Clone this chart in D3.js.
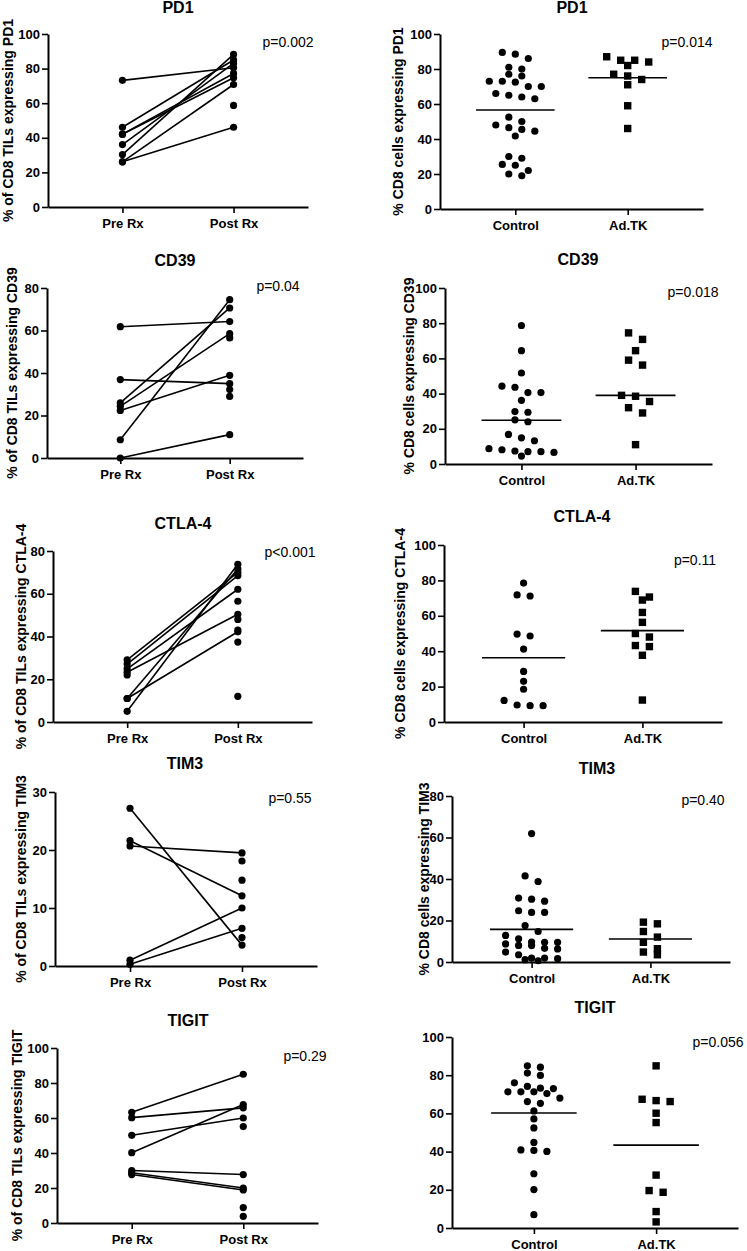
<!DOCTYPE html>
<html><head><meta charset="utf-8">
<script src="https://cdn.jsdelivr.net/npm/d3@7"></script>
<style>
html,body{margin:0;padding:0;background:#fff;}
svg{display:block;}
text{font-family:Arial,"Liberation Sans",sans-serif;fill:#000;}
</style></head>
<body>
<svg id="chart" width="747" height="1251"></svg>
<script>
// ---------------- DATA ----------------
const markers = ["PD1", "CD39", "CTLA-4", "TIM3", "TIGIT"];
const pairedCats = ["Pre Rx", "Post Rx"];
const groupCats = ["Control", "Ad.TK"];
const pPaired = ["p=0.002", "p=0.04", "p<0.001", "p=0.55", "p=0.29"];
const pGroup = ["p=0.014", "p=0.018", "p=0.11", "p=0.40", "p=0.056"];
const yMaxPaired = [100, 80, 80, 30, 100];
const yStepPaired = [20, 20, 20, 10, 20];
const yMaxGroup = [100, 100, 100, 80, 100];
const yStepGroup = [20, 20, 20, 20, 20];

// paired (Pre Rx -> Post Rx)
const pd1Pre = [73.2, 46.1, 42.1, 42.1, 36.1, 30.3, 26.1, 26.1];
const pd1Post = [80.5, 85, 77.2, 74.7, 83, 88.2, 70.8, 46.1];
const pd1PreOnly = [];
const pd1PostOnly = [58.7];

const cd39Pre = [61.8, 36.9, 25.9, 24.3, 22.4, 8.6, 0];
const cd39Post = [64.2, 35, 70.6, 58.5, 38.9, 74.5, 11];
const cd39PreOnly = [];
const cd39PostOnly = [56.5, 32.2, 29];

const ctla4Pre = [29.1, 27.1, 24.9, 23.3, 11, 11, 5];
const ctla4Post = [70, 68.5, 62.1, 50.4, 42.2, 71.6, 73.8];
const ctla4PreOnly = [22];
const ctla4PostOnly = [56.5, 48, 43, 37.4, 12];

const tim3Pre = [27.2, 21.6, 20.7, 1, 0.3];
const tim3Post = [3.6, 12.1, 19.5, 10, 6.5];
const tim3PreOnly = [];
const tim3PostOnly = [18.1, 14.8, 4.9];

const tigitPre = [63.3, 60.2, 50.1, 40.2, 30, 28.7, 27.7];
const tigitPost = [85, 65.8, 60, 67.7, 27.7, 20, 18.9];
const tigitPreOnly = [];
const tigitPostOnly = [55.1, 8.8, 3.8];

// groups (Control vs Ad.TK)
const pd1Control = [88.5, 86, 89.5, 81, 80, 77, 76, 72.5, 73, 73, 70, 70, 66, 65, 63, 64, 52.5, 48, 50, 45.5, 44.5, 46.5, 41.7, 30, 29, 25.5, 25, 22, 19, 20];
const pd1AdTK = [87, 85, 85, 84, 82, 77, 76, 74, 71, 59, 46];
const pd1Centers = [56.6, 75];

const cd39Control = [78.7, 64.4, 51.7, 44.2, 43.6, 40.6, 40.6, 36.2, 29.8, 29.4, 25.1, 24, 16.8, 14.9, 13.2, 8.7, 8.1, 7.4, 7, 7, 6.6, 4.5];
const cd39AdTK = [74.5, 70.8, 64.4, 59, 56.2, 39, 38.5, 35.5, 32, 29, 11];
const cd39Centers = [24.9, 39];

const ctla4Control = [78.5, 71.8, 71.2, 49.7, 48.6, 41.2, 28.6, 23, 18.5, 12.2, 9.6, 9.2, 9.2];
const ctla4AdTK = [73.8, 70.6, 68.9, 61.9, 56.3, 50, 48, 43.2, 42.6, 37.7, 12.4];
const ctla4Centers = [36.3, 51.6];

const tim3Control = [61.9, 41.5, 38.8, 30.8, 30.3, 29.3, 24.7, 23.9, 23.9, 17.6, 14.7, 12.8, 11.2, 9.6, 9.5, 9.5, 8.7, 8, 7.9, 6.6, 6.3, 4.8, 3.5, 1.9, 1.9, 1.6, 1.1, 0.6];
const tim3AdTK = [19.2, 18.4, 14.7, 12, 9.5, 6.4, 4.8, 3.5];
const tim3Centers = [15.7, 11.1];

const tigitControl = [84.9, 84.2, 81.1, 79.9, 76, 74.1, 73.2, 73, 71.3, 71.3, 71.3, 70.4, 68, 66.2, 65.3, 61.3, 57.1, 52.4, 44.8, 40.9, 40.6, 40.1, 28.4, 20.1, 7];
const tigitAdTK = [84.9, 67.4, 66.7, 66.2, 60.1, 55.2, 27.7, 19.6, 18.7, 8.6, 3.2];
const tigitCenters = [60.2, 43.4];

const pairedData = [
  [pd1Pre, pd1Post, pd1PreOnly, pd1PostOnly],
  [cd39Pre, cd39Post, cd39PreOnly, cd39PostOnly],
  [ctla4Pre, ctla4Post, ctla4PreOnly, ctla4PostOnly],
  [tim3Pre, tim3Post, tim3PreOnly, tim3PostOnly],
  [tigitPre, tigitPost, tigitPreOnly, tigitPostOnly]
];
const groupData = [
  [pd1Control, pd1AdTK, pd1Centers],
  [cd39Control, cd39AdTK, cd39Centers],
  [ctla4Control, ctla4AdTK, ctla4Centers],
  [tim3Control, tim3AdTK, tim3Centers],
  [tigitControl, tigitAdTK, tigitCenters]
];

// ---------------- LAYOUT ----------------
const leftLayout = [
  {x0:48, x1:308, yT:34,   yB:207,  tx:178, ty:13,   px:288, py:47,   lx:8},
  {x0:47, x1:303, yT:288,  yB:458,  tx:175, ty:266,  px:278, py:291,  lx:12},
  {x0:53, x1:312, yT:551,  yB:722,  tx:183, ty:529,  px:290, py:557,  lx:21},
  {x0:55, x1:317, yT:792,  yB:966,  tx:185, ty:769,  px:290, py:803,  lx:21},
  {x0:57, x1:318, yT:1048, yB:1223, tx:188, ty:1026, px:305, py:1061, lx:17}
];
const rightLayout = [
  {x0:440, x1:703, yT:34,   yB:209,  tx:572, ty:13,   px:687, py:47,   lx:398},
  {x0:445, x1:712, yT:288,  yB:464,  tx:578, ty:265,  px:693, py:297,  lx:409},
  {x0:444, x1:722, yT:545,  yB:722,  tx:582, ty:522,  px:695, py:565,  lx:400},
  {x0:452, x1:730, yT:796,  yB:962,  tx:597, ty:774,  px:703, py:805,  lx:424},
  {x0:452, x1:738, yT:1037, yB:1228, tx:595, ty:1013, px:718, py:1047, lx:null}
];

const svg = d3.select("#chart");
const R = 3.6, SQ = 7.4;

function frame(L, cats, yMax, yStep, title, pText, yLabel) {
  const g = svg.append("g");
  const x = d3.scalePoint().domain(cats).range([L.x0, L.x1]).padding(0.67);
  const y = d3.scaleLinear().domain([0, yMax]).range([L.yB, L.yT]);
  const ya = g.append("g").attr("transform", `translate(${L.x0},0)`)
    .call(d3.axisLeft(y).tickValues(d3.range(0, yMax + 0.001, yStep)).tickSize(6).tickSizeOuter(0).tickPadding(2).tickFormat(d3.format("d")));
  const xa = g.append("g").attr("transform", `translate(0,${L.yB})`)
    .call(d3.axisBottom(x).tickSize(6).tickSizeOuter(0).tickPadding(6));
  [ya, xa].forEach(a => {
    a.select(".domain").attr("stroke", "#000").attr("stroke-width", 2);
    a.selectAll(".tick line").attr("stroke", "#000").attr("stroke-width", 1.6);
    a.selectAll(".tick text").attr("font-family", "Arial, 'Liberation Sans', sans-serif")
      .attr("font-weight", "bold").attr("font-size", 13).attr("fill", "#000");
  });
  g.append("text").attr("x", L.tx).attr("y", L.ty).attr("text-anchor", "middle")
    .attr("font-weight", "bold").attr("font-size", 16).text(title);
  g.append("text").attr("x", L.px).attr("y", L.py).attr("text-anchor", "middle")
    .attr("font-size", 14).text(pText);
  if (L.lx !== null) {
    const cy = (L.yT + L.yB) / 2;
    g.append("text").attr("transform", `translate(${L.lx},${cy}) rotate(-90)`)
      .attr("text-anchor", "middle").attr("dy", "0.35em")
      .attr("font-weight", "bold").attr("font-size", 14).text(yLabel);
  }
  return {g, x, y};
}

// GraphPad-like row swarm: returns [{v, dx}]
function swarm(values, y, spacing, thresh) {
  const sorted = values.slice().sort((a, b) => b - a);
  const rows = [];
  let cur = null;
  sorted.forEach(v => {
    if (cur && Math.abs(y(v) - y(cur[0])) < thresh) cur.push(v);
    else { cur = [v]; rows.push(cur); }
  });
  const out = [];
  rows.forEach(r => {
    const n = r.length;
    // alternate placement so the row is symmetric
    r.forEach((v, i) => out.push({v, dx: (i - (n - 1) / 2) * spacing}));
  });
  return out;
}

// paired panels
markers.forEach((m, i) => {
  const L = leftLayout[i];
  const [pre, post, preOnly, postOnly] = pairedData[i];
  const {g, x, y} = frame(L, pairedCats, yMaxPaired[i], yStepPaired[i], m, pPaired[i], "% of CD8 TILs expressing " + m);
  const pairs = pre.map((v, k) => [v, post[k]]);
  g.append("g").selectAll("line").data(pairs).join("line")
    .attr("x1", x(pairedCats[0])).attr("x2", x(pairedCats[1]))
    .attr("y1", d => y(d[0])).attr("y2", d => y(d[1]))
    .attr("stroke", "#000").attr("stroke-width", 1.6);
  const pts = pre.concat(preOnly).map(v => ({c: pairedCats[0], v}))
    .concat(post.concat(postOnly).map(v => ({c: pairedCats[1], v})));
  g.append("g").selectAll("circle").data(pts).join("circle")
    .attr("cx", d => x(d.c)).attr("cy", d => y(d.v)).attr("r", R).attr("fill", "#000");
});

// group panels
markers.forEach((m, i) => {
  const L = rightLayout[i];
  const [ctrl, tk, centers] = groupData[i];
  const {g, x, y} = frame(L, groupCats, yMaxGroup[i], yStepGroup[i], m, pGroup[i], "% CD8 cells expressing " + m);
  const spacing = 13;
  const cs = swarm(ctrl, y, spacing, 7);
  const ts = swarm(tk, y, spacing + 1, 7);
  g.append("g").selectAll("circle").data(cs).join("circle")
    .attr("cx", d => x(groupCats[0]) + d.dx).attr("cy", d => y(d.v)).attr("r", R).attr("fill", "#000");
  g.append("g").selectAll("rect").data(ts).join("rect")
    .attr("x", d => x(groupCats[1]) + d.dx - SQ / 2).attr("y", d => y(d.v) - SQ / 2)
    .attr("width", SQ).attr("height", SQ).attr("fill", "#000");
  const half = x.step() * 0.35;
  g.append("g").selectAll("line").data(centers).join("line")
    .attr("x1", (d, k) => x(groupCats[k]) - half).attr("x2", (d, k) => x(groupCats[k]) + half)
    .attr("y1", d => y(d)).attr("y2", d => y(d))
    .attr("stroke", "#000").attr("stroke-width", 1.6);
});
</script>
</body></html>
